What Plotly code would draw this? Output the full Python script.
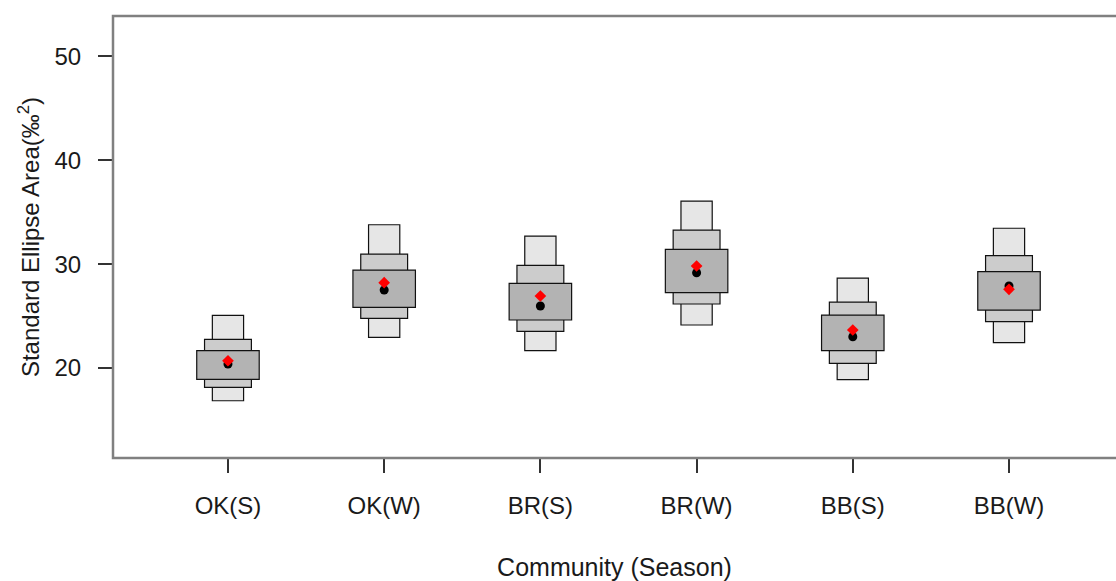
import plotly.graph_objects as go

categories = ["OK(S)", "OK(W)", "BR(S)", "BR(W)", "BB(S)", "BB(W)"]
xpos = [1, 2, 3, 4, 5, 6]

# credible intervals (lower, upper)
ci95_lo = [16.85, 22.95, 21.67, 24.14, 18.88, 22.44]
ci95_hi = [25.07, 33.79, 32.70, 36.07, 28.66, 33.45]
ci75_lo = [18.14, 24.78, 23.53, 26.16, 20.45, 24.46]
ci75_hi = [22.76, 30.97, 29.88, 33.28, 26.35, 30.81]
ci50_lo = [18.91, 25.84, 24.62, 27.25, 21.67, 25.58]
ci50_hi = [21.67, 29.43, 28.15, 31.42, 25.10, 29.27]

mode_vals = [20.38, 27.51, 25.97, 29.17, 23.01, 27.89]
ml_vals = [20.70, 28.21, 26.93, 29.82, 23.66, 27.57]

yticks = [20, 30, 40, 50]

font_family = "Liberation Sans, Arial, sans-serif"
text_color = "#1a1a1a"

fig = go.Figure()

levels = [
    (ci95_lo, ci95_hi, 0.2, "#e6e6e6"),
    (ci75_lo, ci75_hi, 0.3, "#cccccc"),
    (ci50_lo, ci50_hi, 0.4, "#b3b3b3"),
]
for lo, hi, w, col in levels:
    fig.add_trace(go.Bar(
        x=xpos,
        y=[h - l for l, h in zip(lo, hi)],
        base=lo,
        width=w,
        marker=dict(color=col, line=dict(color="#111111", width=1.2)),
        showlegend=False,
        hoverinfo="skip",
    ))

fig.add_trace(go.Scatter(
    x=xpos, y=mode_vals, mode="markers",
    marker=dict(symbol="circle", size=9, color="black"),
    showlegend=False,
))
fig.add_trace(go.Scatter(
    x=xpos, y=ml_vals, mode="markers",
    marker=dict(symbol="diamond", size=9, color="#ff0000"),
    showlegend=False,
))

fig.update_layout(
    width=1116, height=581,
    margin=dict(l=113, r=0, t=16, b=123),
    paper_bgcolor="white", plot_bgcolor="white",
    barmode="overlay",
    font=dict(family=font_family, size=24, color=text_color),
    xaxis=dict(
        range=[0.264, 6.685],
        tickmode="array", tickvals=xpos, ticktext=categories,
        ticks="outside", ticklen=14, tickwidth=1.5, tickcolor="#333333",
        ticklabelstandoff=12,
        showgrid=False, zeroline=False, showline=False,
        tickfont=dict(size=24, color=text_color),
        title=dict(text="Community (Season)", font=dict(size=25, color=text_color), standoff=40),
    ),
    yaxis=dict(
        range=[11.34, 53.88],
        tickmode="array", tickvals=yticks,
        ticks="outside", ticklen=14, tickwidth=1.5, tickcolor="#333333",
        ticklabelstandoff=12,
        showgrid=False, zeroline=False, showline=False,
        tickfont=dict(size=24, color=text_color),
        title=dict(text="Standard Ellipse Area(‰<sup>2</sup>)", font=dict(size=24, color=text_color), standoff=8),
    ),
    shapes=[dict(type="rect", xref="paper", yref="paper", x0=0, x1=1.05, y0=0, y1=1,
                 line=dict(color="#808080", width=2.5), layer="above")],
)

fig.write_html("out.html")
